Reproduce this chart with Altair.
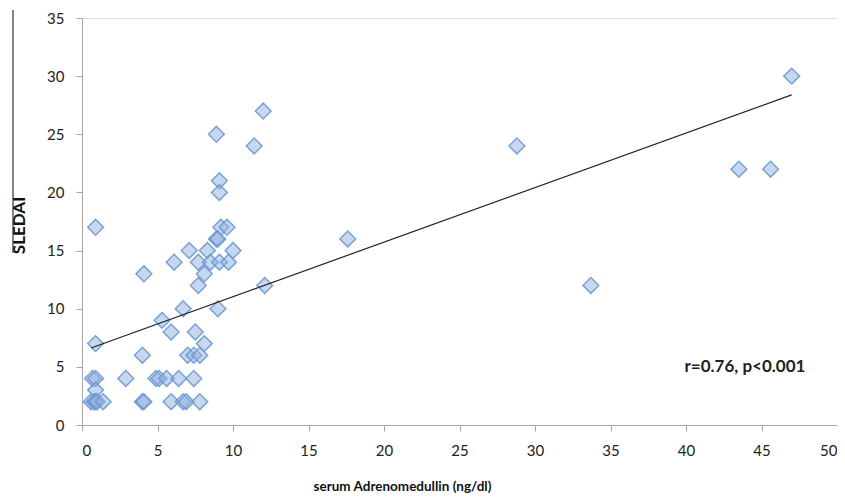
import altair as alt
import pandas as pd

# serum Adrenomedullin (ng/dl)
adm = [0.9, 9.1, 9.1, 9.2, 9.6, 8.9, 9.0,
       7.1, 8.3, 10.0,
       6.1, 7.7, 8.5, 9.1, 9.7,
       8.1, 4.1,
       7.7, 12.1,
       6.7, 9.0,
       5.3,
       5.9, 7.5,
       8.1, 0.9,
       4.0, 7.0, 7.4, 7.8,
       0.7, 0.9, 2.9, 4.9, 5.1, 5.6, 6.4, 7.4,
       0.9,
       0.6, 0.8, 0.9, 1.0, 1.4, 4.0, 4.1, 5.9, 6.7, 6.9, 7.8,
       8.9, 11.4, 12.0, 17.6, 28.8, 33.7, 43.5, 45.6, 47.0]
# SLEDAI score
sledai = [17, 21, 20, 17, 17, 16, 16,
          15, 15, 15,
          14, 14, 14, 14, 14,
          13, 13,
          12, 12,
          10, 10,
          9,
          8, 8,
          7, 7,
          6, 6, 6, 6,
          4, 4, 4, 4, 4, 4, 4, 4,
          3,
          2, 2, 2, 2, 2, 2, 2, 2, 2, 2, 2,
          25, 24, 27, 16, 24, 12, 22, 22, 30]

x_ticks = [0, 5, 10, 15, 20, 25, 30, 35, 40, 45, 50]
y_ticks = [0, 5, 10, 15, 20, 25, 30, 35]

annot_text = ["r=0.76, p<0.001"]
annot_x = [39.9]
annot_y = [5.0]

df = pd.DataFrame({"adm": adm, "sledai": sledai})
ann = pd.DataFrame({"x": annot_x, "y": annot_y, "t": annot_text})

FONT = "Lato"
AX = "#a6a6a6"

xscale = alt.Scale(domain=[0, 50], nice=False)
yscale = alt.Scale(domain=[0, 35], nice=False)

xaxis = alt.Axis(values=x_ticks, grid=False, domainColor=AX, tickColor=AX,
                 tickSize=6, labelPadding=12, labelFontSize=15, labelColor="#222",
                 labelFont=FONT, title="serum Adrenomedullin (ng/dl)",
                 titleFont=FONT, titleFontSize=13.5, titleFontWeight="bold",
                 titleColor="#111", titleX=320, titleY=54, titleBaseline="top")
yaxis = alt.Axis(values=y_ticks, grid=False, domainColor=AX, tickColor=AX,
                 tickSize=6, labelPadding=12, labelFontSize=15, labelColor="#222",
                 labelFont=FONT, title="SLEDAI", titleFont=FONT, titleFontSize=17,
                 titleFontWeight="bold", titleColor="#111", titleX=-54, titleY=207)

points = alt.Chart(df).mark_point(
    shape="diamond", size=250, filled=True, fill="#8fb0dd", fillOpacity=0.5,
    stroke="#6f99d2", strokeWidth=1.5, strokeOpacity=0.9
).encode(
    x=alt.X("adm:Q", scale=xscale, axis=xaxis),
    y=alt.Y("sledai:Q", scale=yscale, axis=yaxis),
)

trend = alt.Chart(df).transform_regression(
    "adm", "sledai"
).mark_line(color="#222", strokeWidth=1.2).encode(
    x=alt.X("adm:Q", scale=xscale),
    y=alt.Y("sledai:Q", scale=yscale),
)

label = alt.Chart(ann).mark_text(
    align="left", baseline="middle", font=FONT, fontSize=17, fontWeight="bold",
    color="#222"
).encode(
    x=alt.X("x:Q", scale=xscale),
    y=alt.Y("y:Q", scale=yscale),
    text="t:N",
)

edge = alt.Chart(ann).mark_rule(color="#333", strokeWidth=1.2).encode(
    x=alt.value(-69), y=alt.value(-8), y2=alt.value(235)
)

chart = alt.layer(edge, points, trend, label).properties(
    width=755, height=407,
    autosize=alt.AutoSizeParams(type="none"),
    padding={"left": 74, "top": 10, "right": 0, "bottom": 72},
).configure_view(stroke=None).configure(background="white")

chart.save("out.html", embed_options={"renderer": "svg", "actions": False})
